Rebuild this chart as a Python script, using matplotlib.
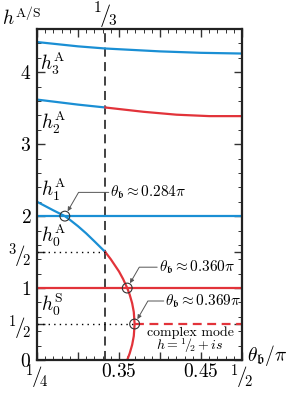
import matplotlib
matplotlib.use("Agg")
import matplotlib.pyplot as plt
from matplotlib.ticker import MultipleLocator

plt.rcParams['mathtext.fontset'] = 'cm'
plt.rcParams['font.family'] = ['cmr10', 'DejaVu Sans']
plt.rcParams['axes.formatter.use_mathtext'] = True

BLUE = '#1a8fd4'
RED = '#e2333a'

# ---- data ----
h3_theta = [0.25, 0.30, 1/3, 0.40, 0.45, 0.50]
h3_val = [4.42, 4.36, 4.33, 4.29, 4.27, 4.26]

h2_theta_blue = [0.25, 0.30, 1/3]
h2_val_blue = [3.62, 3.55, 3.51]
h2_theta_red = [1/3, 0.38, 0.42, 0.46, 0.50]
h2_val_red = [3.51, 3.45, 3.41, 3.39, 3.39]

h1_theta = [0.25, 0.50]
h1_val = [2.0, 2.0]

h0A_theta_blue = [0.25, 0.26, 0.27, 0.284, 0.29, 0.30, 0.31, 0.32, 1/3]
h0A_val_blue = [2.20, 2.14, 2.08, 2.00, 1.95, 1.86, 1.76, 1.65, 1.50]
h0A_theta_red = [1/3, 0.34, 0.35, 0.355, 0.36, 0.363, 0.366, 0.368, 0.369,
                 0.368, 0.366, 0.363, 0.36]
h0A_val_red = [1.50, 1.40, 1.23, 1.125, 1.00, 0.908, 0.789, 0.667, 0.50,
               0.333, 0.211, 0.092, 0.0]

h0S_theta = [0.25, 0.50]
h0S_val = [1.0, 1.0]

complex_theta = [0.369, 0.50]
complex_val = [0.5, 0.5]

crit_theta = [0.284, 0.360, 0.369]
crit_val = [2.0, 1.0, 0.5]
crit_labels = [r'$\theta_{\mathfrak{b}} \approx 0.284\pi$',
               r'$\theta_{\mathfrak{b}} \approx 0.360\pi$',
               r'$\theta_{\mathfrak{b}} \approx 0.369\pi$']
crit_text_x = [0.3395, 0.3985, 0.4065]
crit_text_y = [2.33, 1.29, 0.82]

xtick_vals = [0.25, 0.30, 0.35, 0.40, 0.45, 0.50]
xtick_labels = [r'$^{1}\!/\!_{4}$', '', r'$0.35$', '', r'$0.45$', r'$^{1}\!/\!_{2}$']
ytick_vals = [0, 0.5, 1, 1.5, 2, 3, 4]
ytick_labels = [r'$0$', r'$^{1}\!/\!_{2}$', r'$1$', r'$^{3}\!/\!_{2}$', r'$2$', r'$3$', r'$4$']

# ---- figure ----
fig = plt.figure(figsize=(2.91, 3.93), dpi=100)
ax = fig.add_axes([0.127, 0.084, 0.705, 0.842])
ax.set_xlim(0.25, 0.5)
ax.set_ylim(0, 4.6)

lw = 1.6
ax.plot(h3_theta, h3_val, color=BLUE, lw=lw)
ax.plot(h2_theta_blue, h2_val_blue, color=BLUE, lw=lw)
ax.plot(h2_theta_red, h2_val_red, color=RED, lw=lw)
ax.plot(h1_theta, h1_val, color=BLUE, lw=lw)
ax.plot(h0S_theta, h0S_val, color=RED, lw=lw)
ax.plot(h0A_theta_blue, h0A_val_blue, color=BLUE, lw=lw)
ax.plot(h0A_theta_red, h0A_val_red, color=RED, lw=lw)
ax.plot(complex_theta, complex_val, color=RED, lw=lw, ls=(0, (4, 2.5)))

# dotted guides
ax.plot([0.25, 1/3], [1.5, 1.5], color='k', lw=1.0, ls=(0, (1, 3)))
ax.plot([0.25, 0.369], [0.5, 0.5], color='k', lw=1.0, ls=(0, (1, 3)))

# vertical dashed at 1/3
ax.axvline(1/3, color='#333333', lw=1.3, ls=(0, (5, 3)), zorder=1)

# critical points
ax.scatter(crit_theta, crit_val, s=50, facecolors='none', edgecolors='#333333',
           linewidths=0.8, zorder=5)

arrow_kw = dict(arrowstyle='-|>', color='#555555', lw=0.7, mutation_scale=6,
                shrinkA=0, shrinkB=4)
ann_fs = 11
for tx, ty, lab, px, py in zip(crit_text_x, crit_text_y, crit_labels, crit_theta, crit_val):
    ax.text(tx, ty, lab, fontsize=ann_fs, ha='left', va='center')
    ax.annotate('', xy=(px, py), xytext=(tx - 0.002, ty),
                arrowprops=dict(connectionstyle='angle,angleA=0,angleB=60,rad=0', **arrow_kw))

ax.text(0.4365, 0.385, 'complex mode', fontsize=10, ha='center', va='center',
        family='cmr10')
ax.text(0.4365, 0.20, r'$h = {}^{1}\!/\!_{2} + is$', fontsize=10, ha='center', va='center')

# curve labels
lab_fs = 14
ax.text(0.2535, 4.12, r'$h_3^{\rm A}$', fontsize=lab_fs, ha='left', va='center')
ax.text(0.2545, 3.29, r'$h_2^{\rm A}$', fontsize=lab_fs, ha='left', va='center')
ax.text(0.2545, 2.36, r'$h_1^{\rm A}$', fontsize=lab_fs, ha='left', va='center')
ax.text(0.2545, 1.72, r'$h_0^{\rm A}$', fontsize=lab_fs, ha='left', va='center')
ax.text(0.2545, 0.76, r'$h_0^{\rm S}$', fontsize=lab_fs, ha='left', va='center')

fig.text(2 / 291, 1 - 18 / 393, r'$h^{\rm A/S}$', fontsize=14, ha='left', va='center')
fig.text(105 / 291, 1 - 16 / 393, r'$^{1}\!/\!_{3}$', fontsize=16, ha='center', va='center')
fig.text(247 / 291, 1 - 355 / 393, r'$\theta_{\mathfrak{b}}/\pi$', fontsize=14,
         ha='left', va='center')

# ticks
ax.set_xticks(xtick_vals)
ax.set_xticklabels(xtick_labels)
ax.set_yticks(ytick_vals)
ax.set_yticklabels(ytick_labels)
ax.xaxis.set_minor_locator(MultipleLocator(0.01))
ax.yaxis.set_minor_locator(MultipleLocator(0.2))
ax.tick_params(which='both', direction='in', top=True, right=True, width=1.0,
               color='#333333', labelsize=14)
ax.tick_params(which='major', length=6)
ax.tick_params(which='minor', length=3, width=0.7)
ax.tick_params(axis='x', pad=2)
ax.tick_params(axis='y', pad=4)
for lab in ax.get_xticklabels() + ax.get_yticklabels():
    if '/' in lab.get_text():
        lab.set_fontsize(15)

for sp in ax.spines.values():
    sp.set_linewidth(1.6)
    sp.set_color('#222222')

fig.savefig('out.png', dpi=100)
